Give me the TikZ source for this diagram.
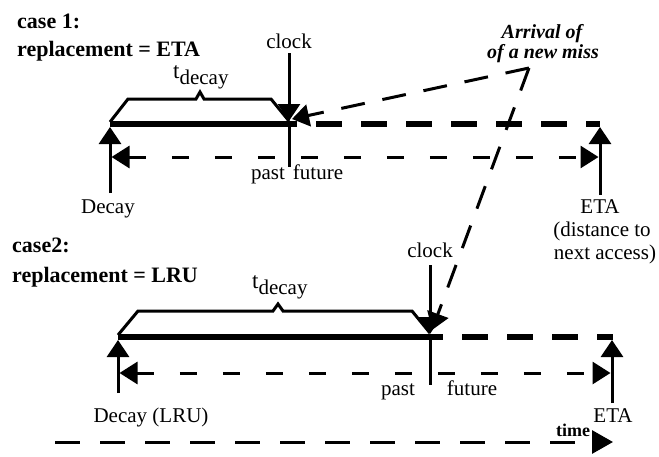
\documentclass[tikz,border=0pt]{standalone}
\usepackage{fontspec}
\setmainfont{Liberation Serif}
\usetikzlibrary{arrows.meta}
\begin{document}
\begin{tikzpicture}[x=1pt,y=-1pt,
  lbl/.style={font=\fontsize{21}{23}\selectfont, inner sep=0pt, anchor=base},
  ttl/.style={font=\fontsize{22}{24}\selectfont\bfseries, inner sep=0pt, anchor=base west},
  arr/.style={line width=3pt, -{Triangle[length=17pt,width=22pt]}},
  darr/.style={line width=3pt, {Triangle[length=18pt,width=22pt]}-{Triangle[length=18pt,width=22pt]}, dash pattern=on 17pt off 26pt},
  solidbar/.style={line width=5.5pt},
  thickdash/.style={line width=5.5pt, dash pattern=on 26pt off 19pt},
  thin/.style={line width=3pt},
  missarr/.style={line width=3pt, dash pattern=on 24pt off 18pt, -{Triangle[length=17pt,width=22pt]}},
  axis/.style={line width=3pt, dash pattern=on 25pt off 20pt, -{Triangle[length=21pt,width=23pt]}}]
\fill[white] (0,0) rectangle (659,456);
\useasboundingbox (0,0) rectangle (659,456);

% ---------------- case 1 ----------------
\node[ttl] (t1a) at (17,28) {case 1:};
\node[ttl] (t1b) at (17,56) {replacement = ETA};

\coordinate (D1) at (110,124);
\coordinate (C1) at (289,124);
\coordinate (E1) at (600,124);
\coordinate (D1b) at (110,193);
\coordinate (D1t) at (110,127);
\coordinate (C1t) at (289,53);
\coordinate (C1h) at (289,121);
\coordinate (C1b) at (289,167);
\coordinate (E1b) at (600,195);
\coordinate (E1t) at (600,127);
\coordinate (L1) at (111.5,157);
\coordinate (R1) at (598.5,157);

\draw[solidbar] (D1) -- (C1);
\draw[thickdash, dash phase=18pt] (C1) -- (E1);
\draw[thin] (C1) -- (C1b);
\draw[arr] (C1t) -- (C1h);
\draw[arr] (D1b) -- (D1t);
\draw[arr] (E1b) -- (E1t);
\draw[darr] (L1) -- (R1);
\draw[thin, line join=miter] (110,122) -- (128,99) -- (196,99) -- (200,92) -- (204,99) -- (271,99) -- (289,121);

\node[lbl] (clk1) at (289,48) {clock};
\node[lbl, anchor=base west] (td1) at (173,78) {\fontsize{23}{23}\selectfont t\fontsize{21}{23}\selectfont\raisebox{-6pt}{decay}};
\node[lbl] (dec1) at (108,213) {Decay};
\node[lbl] (eta1) at (600,213) {ETA};
\node[lbl] (eta1b) at (602,236) {(distance to};
\node[lbl] (eta1c) at (605,259) {next access)};
\node[lbl] (past1) at (268,179) {past};
\node[lbl] (fut1) at (318,179) {future};

% ---------------- arrival ----------------
\node[font=\fontsize{20}{20}\selectfont\bfseries\itshape, inner sep=0pt, anchor=base] (arr1) at (542,38) {Arrival of};
\node[font=\fontsize{20}{20}\selectfont\bfseries\itshape, inner sep=0pt, anchor=base] (arr2) at (543,58) {of a new miss};
\coordinate (A) at (529,68);
\draw[missarr] (A) -- (292,119);
\draw[missarr] (A) -- (432,330);

% ---------------- case 2 ----------------
\node[ttl] (t2a) at (12,252) {case2:};
\node[ttl] (t2b) at (12,282) {replacement = LRU};

\coordinate (D2) at (118,337);
\coordinate (C2) at (430,337);
\coordinate (E2) at (613,337);
\coordinate (D2b) at (118,393);
\coordinate (D2t) at (118,340);
\coordinate (C2t) at (430,265);
\coordinate (C2h) at (430,334);
\coordinate (C2b) at (430,385);
\coordinate (E2b) at (612,403);
\coordinate (E2t) at (612,340);
\coordinate (L2) at (119.5,373);
\coordinate (R2) at (610.5,373);

\draw[solidbar] (D2) -- (C2);
\draw[thickdash, dash phase=13pt] (C2) -- (E2);
\draw[thin] (C2) -- (C2b);
\draw[arr] (C2t) -- (C2h);
\draw[arr] (D2b) -- (D2t);
\draw[arr] (E2b) -- (E2t);
\draw[darr] (L2) -- (R2);
\draw[thin, line join=miter] (118,335) -- (138,311) -- (273,311) -- (278,304) -- (283,311) -- (412,311) -- (430,333);

\node[lbl] (clk2) at (430,257) {clock};
\node[lbl, anchor=base west] (td2) at (252,288) {\fontsize{23}{23}\selectfont t\fontsize{21}{23}\selectfont\raisebox{-6pt}{decay}};
\node[lbl] (dec2) at (151,422) {Decay (LRU)};
\node[lbl] (eta2) at (613,422) {ETA};
\node[lbl] (past2) at (398,395) {past};
\node[lbl] (fut2) at (472,395) {future};

% ---------------- time axis ----------------
\coordinate (T0) at (55,442);
\coordinate (T1) at (613,442);
\draw[axis] (T0) -- (T1);
\node[font=\fontsize{18}{18}\selectfont\bfseries, inner sep=0pt, anchor=base] (time) at (573,436) {time};
\end{tikzpicture}
\end{document}
